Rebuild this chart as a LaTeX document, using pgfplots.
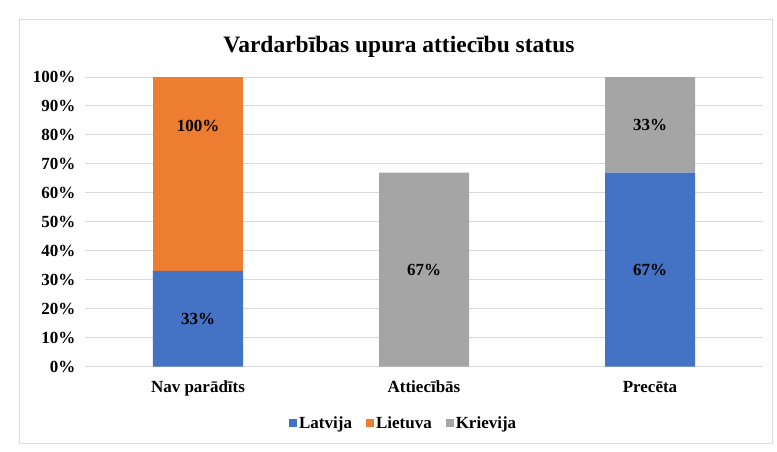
\documentclass[border=0pt]{standalone}
\usepackage{pgfplots}
\pgfplotsset{compat=1.18}
\usepackage{fontspec}
\setmainfont{Liberation Serif}
\definecolor{cBlue}{HTML}{4472C4}
\definecolor{cOrange}{HTML}{ED7D31}
\definecolor{cGray}{HTML}{A5A5A5}
\definecolor{cGrid}{HTML}{D9D9D9}
\begin{document}
\begin{tikzpicture}
\fill[white] (-85pt,-84.5pt) rectangle (692pt,366.5pt);
\draw[cGrid, line width=1pt] (-65pt,-76.5pt) rectangle (687pt,347.5pt);
\node[font=\fontsize{23.5}{28}\selectfont\bfseries] at (314pt,319.5pt) {Vardarbības upura attiecību status};
\begin{axis}[
  at={(0pt,0pt)}, anchor=south west,
  scale only axis, width=678pt, height=289.5pt,
  ybar stacked, bar width=90pt,
  xmin=-0.5, xmax=2.5, ymin=0, ymax=100,
  xtick={0,1,2}, xticklabels={Nav parādīts, Attiecībās, Precēta},
  ytick distance=10,
  axis line style={draw=none},
  ymajorgrids, grid style={cGrid, line width=1pt},
  major tick length=0pt,
  tick label style={font=\fontsize{17}{20}\selectfont\bfseries},
  /pgf/number format/assume math mode=true,
  yticklabel={\pgfmathprintnumber{\tick}\%},
  yticklabel style={xshift=-6pt},
  xticklabel style={yshift=-11pt},
  legend style={at={(0.47,-0.195)}, anchor=center, draw=none, legend columns=-1,
    font=\fontsize{17}{20}\selectfont\bfseries,
    /tikz/every even column/.append style={column sep=12pt}},
  legend image code/.code={\fill[#1] (0pt,-4pt) rectangle (8pt,4pt);},
]
\addplot[fill=cBlue, draw=none] coordinates {(0,33) (1,0) (2,67)};
\addplot[fill=cOrange, draw=none] coordinates {(0,100) (1,0) (2,0)};
\addplot[fill=cGray, draw=none] coordinates {(0,0) (1,67) (2,33)};
\legend{Latvija, Lietuva, Krievija}
\end{axis}
\begin{axis}[
  at={(0pt,0pt)}, anchor=south west,
  scale only axis, width=678pt, height=289.5pt,
  xmin=-0.5, xmax=2.5, ymin=0, ymax=100,
  hide axis,
  nodes near coords, point meta=explicit symbolic,
  every node near coord/.append style={anchor=center, font=\fontsize{17}{20}\selectfont\bfseries},
]
\addplot[draw=none, mark=none] coordinates {(0,16.5)[33\%] (0,83)[100\%] (1,33.5)[67\%] (2,33.5)[67\%] (2,83.5)[33\%]};
\end{axis}
\end{tikzpicture}
\end{document}
